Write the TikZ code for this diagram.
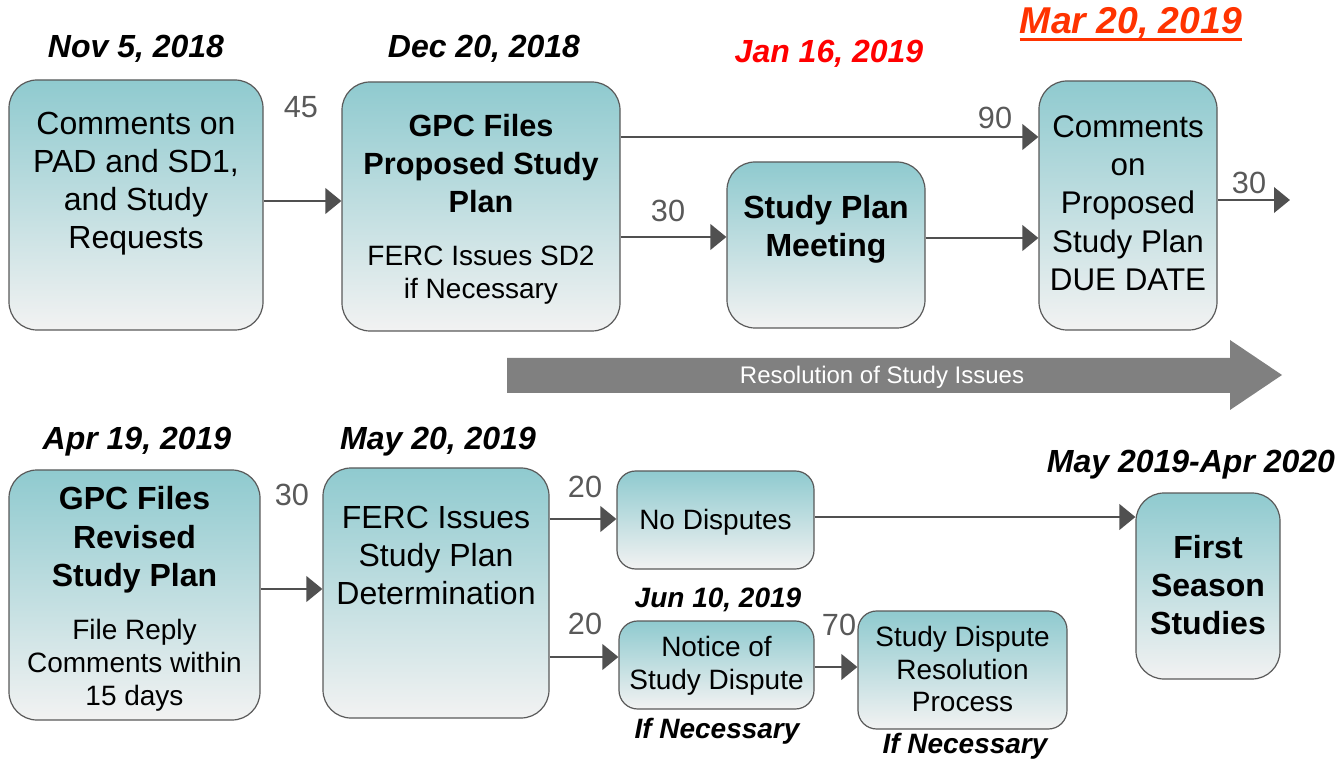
\documentclass[tikz,border=0pt]{standalone}
\usepackage{fontspec}
\setmainfont{Liberation Sans}
\usetikzlibrary{arrows.meta}
\definecolor{boxtop}{HTML}{8FCACF}
\definecolor{boxbot}{HTML}{F2F2F2}
\definecolor{boxline}{HTML}{595959}
\definecolor{arrowc}{HTML}{505050}
\definecolor{numc}{HTML}{595959}
\definecolor{bigarrowc}{HTML}{808080}
\definecolor{datered}{HTML}{FF0000}
\definecolor{dateorange}{HTML}{FF3300}
\tikzset{
  box/.style={draw=boxline, line width=0.9pt, rounded corners=21pt, top color=boxtop, bottom color=boxbot, inner sep=0pt},
  smallbox/.style={box, rounded corners=14pt},
  txt/.style={align=center, text=black, inner sep=0pt},
  tA/.style={txt, font=\fontsize{24}{28.5}\selectfont},
  tAb/.style={txt, font=\fontsize{24}{28.8}\selectfont\bfseries},
  tB/.style={txt, font=\fontsize{21}{24.7}\selectfont},
  datelbl/.style={inner sep=0pt, font=\fontsize{24}{28}\selectfont\bfseries\itshape},
  smalldate/.style={inner sep=0pt, font=\fontsize{21}{25}\selectfont\bfseries\itshape},
  num/.style={inner sep=0pt, text=numc, font=\fontsize{23}{27}\selectfont},
  arr/.style={draw=arrowc, line width=2.2pt, -{Triangle[length=12pt,width=19pt]}}
}
\begin{document}
\begin{tikzpicture}[x=0.75pt,y=-0.75pt]
\useasboundingbox (0,0) rectangle (1340,759);

% ---------- top row boxes ----------
\node[box, minimum width=254*0.75pt, minimum height=250*0.75pt] (b1) at (136,205) {};
\node[box, minimum width=278*0.75pt, minimum height=249*0.75pt] (b2) at (481,206.5) {};
\node[box, minimum width=198*0.75pt, minimum height=166*0.75pt] (b3) at (826,245) {};
\node[box, minimum width=178*0.75pt, minimum height=249*0.75pt] (b4) at (1128,205.5) {};

\node[tA] (t1) at (136,184) {Comments on\\PAD and SD1,\\and Study\\Requests};
\node[txt, font=\fontsize{23}{28.5}\selectfont\bfseries] (t2a) at (481,164) {GPC Files\\Proposed Study\\Plan};
\node[tB] (t2b) at (481,275) {FERC Issues SD2\\if Necessary};
\node[tAb] (t3) at (826,229) {Study Plan\\Meeting};
\node[txt, font=\fontsize{23.5}{28.7}\selectfont] (t4) at (1128,203) {Comments\\on\\Proposed\\Study Plan\\DUE DATE};

% dates top
\node[datelbl] (d1) at (136,49) {Nov 5, 2018};
\node[datelbl] (d2) at (484,49) {Dec 20, 2018};
\node[datelbl, text=datered] (d3) at (829,54) {Jan 16, 2019};
\node[inner sep=0pt, text=dateorange, font=\fontsize{28}{32}\selectfont\bfseries\itshape] (d4) at (1131,23) {Mar 20, 2019};
\draw[dateorange, line width=2.2pt] ([yshift=-4.5pt]d4.base west) -- ([yshift=-4.5pt]d4.base east);

% numbers top
\node[num] (n45) at (301,107) {45};
\node[num] (n30a) at (668,211) {30};
\node[num] (n90) at (995,118) {90};
\node[num] (n30b) at (1249,183) {30};

% arrows top
\coordinate (out4) at (1290,200);
\draw[arr] (b1.east |- 0,201) -- (b2.west |- 0,201);
\draw[arr] (b2.east |- 0,137) -- (b4.west |- 0,137);
\draw[arr] (b2.east |- 0,237) -- (b3.west |- 0,237);
\draw[arr] (b3.east |- 0,238) -- (b4.west |- 0,238);
\draw[arr] (b4.east |- out4) -- (out4);

% big arrow
\fill[bigarrowc] (507,358) -- (1230,358) -- (1230,340) -- (1282,375) -- (1230,410) -- (1230,393) -- (507,393) -- cycle;
\node[inner sep=0pt, text=white, font=\fontsize{18}{21}\selectfont] (res) at (882,377) {Resolution of Study Issues};

% ---------- bottom row boxes ----------
\node[box, minimum width=251*0.75pt, minimum height=250*0.75pt] (b5) at (134.5,595) {};
\node[box, minimum width=226*0.75pt, minimum height=250*0.75pt] (b6) at (436,593) {};
\node[smallbox, minimum width=197*0.75pt, minimum height=98*0.75pt] (b7) at (715.5,520) {};
\node[smallbox, minimum width=195*0.75pt, minimum height=88*0.75pt] (b8) at (716.5,665) {};
\node[smallbox, minimum width=209*0.75pt, minimum height=118*0.75pt] (b9) at (962.5,670) {};
\node[box, minimum width=144*0.75pt, minimum height=186*0.75pt] (b10) at (1208,586) {};

\node[tAb] (t5a) at (134.5,540) {GPC Files\\Revised\\Study Plan};
\node[tB] (t5b) at (134.5,665) {File Reply\\Comments within\\15 days};
\node[tA] (t6) at (436,555) {FERC Issues\\Study Plan\\Determination};
\node[tB] (t7) at (715.5,522) {No Disputes};
\node[tB] (t8) at (716.5,666) {Notice of\\Study Dispute};
\node[tB] (t9) at (962.5,669) {Study Dispute\\Resolution\\Process};
\node[tAb] (t10) at (1208,585) {First\\Season\\Studies};

% dates bottom
\node[datelbl] (d5) at (137,442) {Apr 19, 2019};
\node[datelbl] (d6) at (438,442) {May 20, 2019};
\node[smalldate] (d7) at (718,600) {Jun 10, 2019};
\node[datelbl] (d8) at (1191,465) {May 2019-Apr 2020};
\node[smalldate] (nec1) at (717,731) {If Necessary};
\node[smalldate] (nec2) at (965,746) {If Necessary};

% numbers bottom
\node[num] (n30c) at (292,495) {30};
\node[num] (n20a) at (585,487) {20};
\node[num] (n20b) at (585,624) {20};
\node[num] (n70) at (839,625) {70};

% arrows bottom
\draw[arr] (b5.east |- 0,589) -- (b6.west |- 0,589);
\draw[arr] (b6.east |- 0,519) -- (b7.west |- 0,519);
\draw[arr] (b6.east |- 0,657) -- (b8.west |- 0,657);
\draw[arr] (b8.east |- 0,667) -- (b9.west |- 0,667);
\draw[arr] (b7.east |- 0,517) -- (b10.west |- 0,517);
\end{tikzpicture}
\end{document}
